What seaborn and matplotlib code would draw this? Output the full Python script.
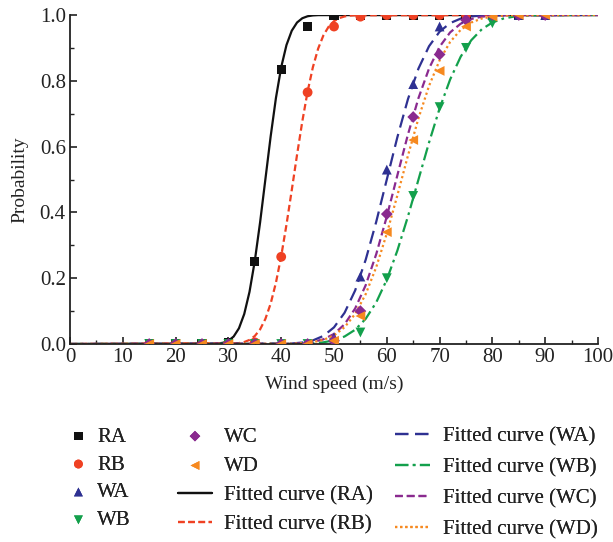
import matplotlib
matplotlib.use("Agg")
import matplotlib.pyplot as plt
import seaborn as sns
import pandas as pd

# ---- measured data ----
wind_speed = [15, 20, 25, 30, 35, 40, 45, 50, 55, 60, 65, 70, 75, 80, 85, 90]
prob_RA = [0, 0, 0, 0.005, 0.25, 0.835, 0.965, 1, 1, 1, 1, 1, 1, 1, 1, 1]
prob_RB = [0, 0, 0, 0, 0.005, 0.265, 0.765, 0.965, 0.995, 1, 1, 1, 1, 1, 1, 1]
prob_WA = [0, 0, 0, 0, 0, 0, 0, 0.02, 0.205, 0.53, 0.79, 0.965, 0.99, 1, 1, 1]
prob_WB = [0, 0, 0, 0, 0, 0, 0, 0.003, 0.035, 0.2, 0.45, 0.72, 0.9, 0.975, 1, 1]
prob_WC = [0, 0, 0, 0, 0, 0, 0, 0.01, 0.1, 0.395, 0.69, 0.88, 0.985, 1, 1, 1]
prob_WD = [0, 0, 0, 0, 0, 0, 0, 0.01, 0.085, 0.34, 0.62, 0.83, 0.965, 0.995, 1, 1]

# ---- fitted curves ----
fit_x_RA = [0, 28, 29, 30, 31, 32, 33, 34, 35, 36, 37, 38, 39, 40, 41, 42, 43, 44, 45, 46, 47, 100]
fit_y_RA = [0, 0.0013, 0.0038, 0.0098, 0.0228, 0.0478, 0.0912, 0.1587, 0.2525, 0.3694, 0.5,
            0.6306, 0.7475, 0.8413, 0.9088, 0.9522, 0.9772, 0.9902, 0.9962, 0.9987, 0.9996, 1]
fit_x_RB = [0, 32, 33, 34, 35, 36, 37, 38, 39, 40, 41, 42, 43, 44, 45, 46, 47, 48, 49, 50, 51, 52, 53, 54, 100]
fit_y_RB = [0, 0.0027, 0.0060, 0.0124, 0.0243, 0.0443, 0.0761, 0.1226, 0.1862, 0.2670, 0.3628,
            0.4677, 0.5750, 0.6769, 0.7673, 0.8413, 0.8980, 0.9383, 0.9649, 0.9813, 0.9906,
            0.9956, 0.9981, 0.9992, 1]
fit_x_WA = [0, 42, 44, 46, 48, 50, 52, 54, 56, 58, 60, 62, 64, 66, 68, 70, 72, 74, 76, 78, 100]
fit_y_WA = [0, 0.0016, 0.0044, 0.0109, 0.0246, 0.0506, 0.0949, 0.1626, 0.2560, 0.3715, 0.5,
            0.6285, 0.7440, 0.8374, 0.9051, 0.9494, 0.9754, 0.9891, 0.9956, 0.9984, 1]
fit_x_WB = [0, 44, 46, 48, 50, 52, 54, 56, 58, 60, 62, 64, 66, 68, 70, 72, 74, 76, 78, 80, 82, 84, 86, 88, 100]
fit_y_WB = [0, 0.0008, 0.0021, 0.0051, 0.0111, 0.0228, 0.0432, 0.0766, 0.1265, 0.1957, 0.2839,
            0.3875, 0.5, 0.6125, 0.7161, 0.8043, 0.8735, 0.9234, 0.9568, 0.9772, 0.9889,
            0.9949, 0.9979, 0.9992, 1]
fit_x_WC = [0, 42, 44, 46, 48, 50, 52, 54, 56, 58, 60, 62, 64, 66, 68, 70, 72, 74, 76, 78, 80, 82, 100]
fit_y_WC = [0, 0.0008, 0.0024, 0.0061, 0.0143, 0.0305, 0.0599, 0.1078, 0.1786, 0.2732, 0.3875,
            0.5127, 0.6365, 0.7475, 0.8374, 0.9035, 0.9473, 0.9736, 0.9879, 0.9949, 0.9981,
            0.9993, 1]
fit_x_WD = [0, 42, 44, 46, 48, 50, 52, 54, 56, 58, 60, 62, 64, 66, 68, 70, 72, 74, 76, 78, 80, 82, 84, 100]
fit_y_WD = [0, 0.0008, 0.0022, 0.0055, 0.0125, 0.0262, 0.0509, 0.0912, 0.1515, 0.2336, 0.3357,
            0.4518, 0.5722, 0.6862, 0.7846, 0.8623, 0.9183, 0.9551, 0.9772, 0.9894, 0.9954,
            0.9982, 0.9993, 1]

series_names = ["RA", "RB", "WA", "WB", "WC", "WD"]
x_ticks = [0, 10, 20, 30, 40, 50, 60, 70, 80, 90, 100]
y_ticks = [0.0, 0.2, 0.4, 0.6, 0.8, 1.0]

sns.set_style("ticks")
plt.rcParams["font.family"] = ["Liberation Serif", "DejaVu Serif"]

colors = {"RA": "#111111", "RB": "#ef4123", "WA": "#2e3192", "WB": "#13a04c",
          "WC": "#8a2a8f", "WD": "#f6891f"}
markers = {"RA": "s", "RB": "o", "WA": "^", "WB": "v", "WC": "D", "WD": "<"}
msizes = {"RA": 44, "RB": 50, "WA": 50, "WB": 50, "WC": 36, "WD": 50}
lstyles = {"RA": "-", "RB": (0, (3, 1.6)), "WA": (0, (6, 3)), "WB": (0, (6, 2, 1.2, 2)),
           "WC": (0, (3.5, 1.8)), "WD": (0, (1, 1.3))}

points = {"RA": prob_RA, "RB": prob_RB, "WA": prob_WA, "WB": prob_WB, "WC": prob_WC, "WD": prob_WD}
fits = {"RA": (fit_x_RA, fit_y_RA), "RB": (fit_x_RB, fit_y_RB), "WA": (fit_x_WA, fit_y_WA),
        "WB": (fit_x_WB, fit_y_WB), "WC": (fit_x_WC, fit_y_WC), "WD": (fit_x_WD, fit_y_WD)}

fig = plt.figure(figsize=(6.13, 5.42), dpi=100)
ax = fig.add_axes([70 / 613, 1 - 344 / 542, 528 / 613, 329 / 542])

pt_handles = []
fit_handles = []
for name in series_names:
    fx, fy = fits[name]
    df_fit = pd.DataFrame({"x": fx, "y": fy})
    sns.lineplot(data=df_fit, x="x", y="y", ax=ax, color=colors[name], linewidth=1.6,
                 linestyle=lstyles[name], zorder=2, label=f"Fitted curve ({name})")
    fit_handles.append(ax.get_lines()[-1])

for name in series_names:
    df_pt = pd.DataFrame({"x": wind_speed, "y": points[name]})
    sns.scatterplot(data=df_pt, x="x", y="y", ax=ax, color=colors[name], marker=markers[name],
                    s=msizes[name], edgecolor="none", zorder=3, label=name)
    pt_handles.append(ax.collections[-1])

ax.get_legend().remove()

ax.set_xlim(0, 100)
ax.set_ylim(0, 1.0)
ax.set_xticks(x_ticks)
ax.set_yticks(y_ticks)
ax.set_xticks([5, 15, 25, 35, 45, 55, 65, 75, 85, 95], minor=True)
ax.set_yticks([0.1, 0.3, 0.5, 0.7, 0.9], minor=True)
ax.set_xticklabels([str(v) for v in x_ticks])
ax.set_yticklabels([f"{v:.1f}" for v in y_ticks])
ax.tick_params(axis="both", which="major", direction="in", length=5, width=1.2,
               labelsize=15, colors="#222222", pad=3)
ax.tick_params(axis="both", which="minor", direction="in", length=3, width=1.0, colors="#222222")
for s in ["top", "right"]:
    ax.spines[s].set_visible(False)
for s in ["left", "bottom"]:
    ax.spines[s].set_linewidth(1.3)
    ax.spines[s].set_color("#222222")
ax.set_xlabel("Wind speed (m/s)", fontsize=14, color="#222222", labelpad=6)
ax.set_ylabel("Probability", fontsize=14, color="#222222", labelpad=8)

# legend: three columns placed like the reference
fs = 15
col_specs = [
    (pt_handles[:4], series_names[:4], 68, 1.0, 0.4, 0.40),
    (pt_handles[4:] + fit_handles[:2], series_names[4:] + [f"Fitted curve ({n})" for n in series_names[:2]],
     178, 1.63, 0.58, 0.47),
    (fit_handles[2:], [f"Fitted curve ({n})" for n in series_names[2:]], 395, 1.68, 0.62, 0.55),
]
for hs, ls, left_px, hl, htp, lsp in col_specs:
    leg = fig.legend(hs, ls, ncol=1, loc="upper left",
                     bbox_to_anchor=(left_px / 613, 1 - 427 / 542),
                     frameon=False, fontsize=fs, handlelength=hl, handletextpad=htp,
                     labelspacing=lsp, borderpad=0, borderaxespad=0, markerscale=0.9)
    for t in leg.get_texts():
        t.set_color("#222222")
    fig.add_artist(leg)

fig.savefig("out.png", dpi=100)
